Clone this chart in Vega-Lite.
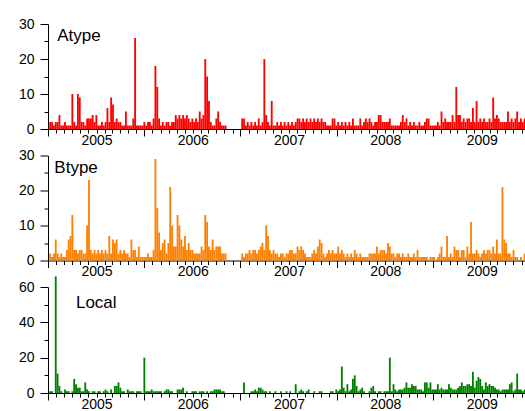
{
"$schema": "https://vega.github.io/schema/vega-lite/v6.json",
"autosize": {"type": "pad"},
"padding": {"left": 18, "top": 17, "right": 0, "bottom": 0},
"background": "white",
"spacing": 26.5,
"bounds": "flush",
"config": {"view": {"stroke": null}, "bar": {"binSpacing": 0}, "axis": {"grid": false, "domainColor": "black", "tickColor": "black", "labelColor": "black", "labelFont": "Liberation Sans", "labelFontSize": 14, "title": null}},
"datasets": {"w": [
{"d":"2004-07-04","a":2,"b":2,"l":1},{"d":"2004-07-11","a":2,"b":1,"l":1},{"d":"2004-07-18","a":1,"b":2,"l":0},{"d":"2004-07-25","a":2,"b":6,"l":66},
{"d":"2004-08-01","a":2,"b":2,"l":11},{"d":"2004-08-08","a":4,"b":1,"l":4},{"d":"2004-08-15","a":1,"b":2,"l":1},{"d":"2004-08-22","a":1,"b":1,"l":0},{"d":"2004-08-29","a":2,"b":1,"l":2},
{"d":"2004-09-05","a":1,"b":3,"l":1},{"d":"2004-09-12","a":1,"b":6,"l":1},{"d":"2004-09-19","a":1,"b":7,"l":0},{"d":"2004-09-26","a":10,"b":13,"l":1},
{"d":"2004-10-03","a":2,"b":3,"l":8},{"d":"2004-10-10","a":1,"b":3,"l":5},{"d":"2004-10-17","a":10,"b":2,"l":3},{"d":"2004-10-24","a":9,"b":3,"l":3},{"d":"2004-10-31","a":2,"b":3,"l":1},
{"d":"2004-11-07","a":2,"b":2,"l":1},{"d":"2004-11-14","a":1,"b":2,"l":6},{"d":"2004-11-21","a":3,"b":10,"l":2},{"d":"2004-11-28","a":3,"b":23,"l":1},
{"d":"2004-12-05","a":3,"b":3,"l":0},{"d":"2004-12-12","a":4,"b":2,"l":1},{"d":"2004-12-19","a":2,"b":3,"l":1},{"d":"2004-12-26","a":4,"b":2,"l":0},
{"d":"2005-01-02","a":1,"b":3,"l":1},{"d":"2005-01-09","a":1,"b":2,"l":1},{"d":"2005-01-16","a":2,"b":3,"l":0},{"d":"2005-01-23","a":1,"b":2,"l":1},{"d":"2005-01-30","a":2,"b":3,"l":2},
{"d":"2005-02-06","a":6,"b":2,"l":1},{"d":"2005-02-13","a":2,"b":7,"l":0},{"d":"2005-02-20","a":9,"b":2,"l":2},{"d":"2005-02-27","a":7,"b":6,"l":0},
{"d":"2005-03-06","a":2,"b":5,"l":4},{"d":"2005-03-13","a":3,"b":6,"l":4},{"d":"2005-03-20","a":2,"b":2,"l":6},{"d":"2005-03-27","a":2,"b":3,"l":3},
{"d":"2005-04-03","a":1,"b":2,"l":1},{"d":"2005-04-10","a":1,"b":3,"l":1},{"d":"2005-04-17","a":5,"b":2,"l":0},{"d":"2005-04-24","a":1,"b":2,"l":2},
{"d":"2005-05-01","a":1,"b":1,"l":1},{"d":"2005-05-08","a":1,"b":6,"l":1},{"d":"2005-05-15","a":3,"b":3,"l":1},{"d":"2005-05-22","a":26,"b":3,"l":0},{"d":"2005-05-29","a":1,"b":1,"l":1},
{"d":"2005-06-05","a":1,"b":4,"l":1},{"d":"2005-06-12","a":1,"b":1,"l":1},{"d":"2005-06-19","a":1,"b":1,"l":0},{"d":"2005-06-26","a":2,"b":1,"l":20},
{"d":"2005-07-03","a":1,"b":1,"l":1},{"d":"2005-07-10","a":2,"b":2,"l":1},{"d":"2005-07-17","a":2,"b":1,"l":1},{"d":"2005-07-24","a":1,"b":1,"l":2},{"d":"2005-07-31","a":3,"b":3,"l":1},
{"d":"2005-08-07","a":18,"b":29,"l":1},{"d":"2005-08-14","a":12,"b":15,"l":1},{"d":"2005-08-21","a":3,"b":8,"l":1},{"d":"2005-08-28","a":1,"b":3,"l":1},
{"d":"2005-09-04","a":2,"b":5,"l":0},{"d":"2005-09-11","a":1,"b":6,"l":1},{"d":"2005-09-18","a":2,"b":2,"l":2},{"d":"2005-09-25","a":2,"b":5,"l":2},
{"d":"2005-10-02","a":1,"b":21,"l":1},{"d":"2005-10-09","a":2,"b":10,"l":1},{"d":"2005-10-16","a":2,"b":4,"l":0},{"d":"2005-10-23","a":4,"b":4,"l":0},{"d":"2005-10-30","a":3,"b":13,"l":2},
{"d":"2005-11-06","a":4,"b":10,"l":2},{"d":"2005-11-13","a":3,"b":6,"l":2},{"d":"2005-11-20","a":4,"b":4,"l":3},{"d":"2005-11-27","a":3,"b":7,"l":0},
{"d":"2005-12-04","a":4,"b":3,"l":1},{"d":"2005-12-11","a":3,"b":5,"l":0},{"d":"2005-12-18","a":2,"b":3,"l":0},{"d":"2005-12-25","a":3,"b":3,"l":1},
{"d":"2006-01-01","a":2,"b":2,"l":1},{"d":"2006-01-08","a":3,"b":2,"l":1},{"d":"2006-01-15","a":2,"b":2,"l":0},{"d":"2006-01-22","a":5,"b":2,"l":1},{"d":"2006-01-29","a":3,"b":4,"l":1},
{"d":"2006-02-05","a":4,"b":3,"l":1},{"d":"2006-02-12","a":20,"b":13,"l":0},{"d":"2006-02-19","a":15,"b":11,"l":1},{"d":"2006-02-26","a":8,"b":4,"l":0},
{"d":"2006-03-05","a":2,"b":3,"l":1},{"d":"2006-03-12","a":1,"b":6,"l":1},{"d":"2006-03-19","a":1,"b":3,"l":2},{"d":"2006-03-26","a":3,"b":4,"l":2},
{"d":"2006-04-02","a":5,"b":4,"l":2},{"d":"2006-04-09","a":2,"b":4,"l":2},{"d":"2006-04-16","a":1,"b":2,"l":1},{"d":"2006-04-23","a":1,"b":2,"l":1},{"d":"2006-04-30","a":1,"b":2,"l":0},
{"d":"2006-07-02","a":3,"b":2,"l":0},{"d":"2006-07-09","a":3,"b":1,"l":6},{"d":"2006-07-16","a":1,"b":2,"l":0},{"d":"2006-07-23","a":2,"b":2,"l":0},{"d":"2006-07-30","a":1,"b":3,"l":0},
{"d":"2006-08-06","a":2,"b":2,"l":1},{"d":"2006-08-13","a":1,"b":3,"l":1},{"d":"2006-08-20","a":2,"b":3,"l":2},{"d":"2006-08-27","a":1,"b":2,"l":1},
{"d":"2006-09-03","a":3,"b":3,"l":3},{"d":"2006-09-10","a":1,"b":4,"l":3},{"d":"2006-09-17","a":2,"b":5,"l":2},{"d":"2006-09-24","a":20,"b":3,"l":1},
{"d":"2006-10-01","a":4,"b":10,"l":1},{"d":"2006-10-08","a":2,"b":7,"l":0},{"d":"2006-10-15","a":1,"b":3,"l":1},{"d":"2006-10-22","a":8,"b":2,"l":0},{"d":"2006-10-29","a":1,"b":3,"l":0},
{"d":"2006-11-05","a":1,"b":2,"l":1},{"d":"2006-11-12","a":2,"b":2,"l":0},{"d":"2006-11-19","a":1,"b":1,"l":0},{"d":"2006-11-26","a":2,"b":2,"l":1},
{"d":"2006-12-03","a":1,"b":2,"l":0},{"d":"2006-12-10","a":2,"b":1,"l":0},{"d":"2006-12-17","a":1,"b":2,"l":1},{"d":"2006-12-24","a":2,"b":2,"l":0},{"d":"2006-12-31","a":1,"b":3,"l":1},
{"d":"2007-01-07","a":2,"b":3,"l":0},{"d":"2007-01-14","a":1,"b":2,"l":0},{"d":"2007-01-21","a":2,"b":2,"l":5},{"d":"2007-01-28","a":3,"b":4,"l":0},
{"d":"2007-02-04","a":3,"b":3,"l":1},{"d":"2007-02-11","a":2,"b":4,"l":2},{"d":"2007-02-18","a":3,"b":3,"l":1},{"d":"2007-02-25","a":2,"b":2,"l":0},
{"d":"2007-03-04","a":3,"b":1,"l":1},{"d":"2007-03-11","a":2,"b":1,"l":2},{"d":"2007-03-18","a":3,"b":1,"l":0},{"d":"2007-03-25","a":2,"b":2,"l":0},
{"d":"2007-04-01","a":3,"b":3,"l":1},{"d":"2007-04-08","a":2,"b":2,"l":0},{"d":"2007-04-15","a":3,"b":4,"l":0},{"d":"2007-04-22","a":2,"b":6,"l":1},{"d":"2007-04-29","a":3,"b":5,"l":1},
{"d":"2007-05-06","a":2,"b":2,"l":0},{"d":"2007-05-13","a":2,"b":1,"l":0},{"d":"2007-05-20","a":1,"b":2,"l":0},{"d":"2007-05-27","a":1,"b":3,"l":0},
{"d":"2007-06-03","a":1,"b":2,"l":1},{"d":"2007-06-10","a":3,"b":3,"l":1},{"d":"2007-06-17","a":3,"b":2,"l":0},{"d":"2007-06-24","a":1,"b":2,"l":2},
{"d":"2007-07-01","a":2,"b":4,"l":1},{"d":"2007-07-08","a":1,"b":2,"l":2},{"d":"2007-07-15","a":2,"b":3,"l":15},{"d":"2007-07-22","a":1,"b":2,"l":3},{"d":"2007-07-29","a":2,"b":1,"l":1},
{"d":"2007-08-05","a":1,"b":2,"l":5},{"d":"2007-08-12","a":2,"b":1,"l":1},{"d":"2007-08-19","a":1,"b":2,"l":2},{"d":"2007-08-26","a":3,"b":1,"l":8},
{"d":"2007-09-02","a":1,"b":3,"l":10},{"d":"2007-09-09","a":1,"b":2,"l":4},{"d":"2007-09-16","a":1,"b":1,"l":1},{"d":"2007-09-23","a":3,"b":2,"l":2},{"d":"2007-09-30","a":1,"b":1,"l":3},
{"d":"2007-10-07","a":2,"b":1,"l":1},{"d":"2007-10-14","a":3,"b":1,"l":0},{"d":"2007-10-21","a":2,"b":1,"l":0},{"d":"2007-10-28","a":3,"b":2,"l":1},
{"d":"2007-11-04","a":2,"b":2,"l":3},{"d":"2007-11-11","a":1,"b":2,"l":4},{"d":"2007-11-18","a":2,"b":2,"l":1},{"d":"2007-11-25","a":2,"b":4,"l":0},
{"d":"2007-12-02","a":4,"b":2,"l":1},{"d":"2007-12-09","a":4,"b":3,"l":1},{"d":"2007-12-16","a":2,"b":3,"l":0},{"d":"2007-12-23","a":2,"b":3,"l":1},{"d":"2007-12-30","a":2,"b":2,"l":1},
{"d":"2008-01-06","a":2,"b":5,"l":1},{"d":"2008-01-13","a":3,"b":4,"l":20},{"d":"2008-01-20","a":1,"b":2,"l":1},{"d":"2008-01-27","a":1,"b":2,"l":5},
{"d":"2008-02-03","a":1,"b":1,"l":2},{"d":"2008-02-10","a":1,"b":2,"l":1},{"d":"2008-02-17","a":1,"b":2,"l":2},{"d":"2008-02-24","a":2,"b":1,"l":2},
{"d":"2008-03-02","a":4,"b":2,"l":2},{"d":"2008-03-09","a":2,"b":1,"l":3},{"d":"2008-03-16","a":3,"b":1,"l":6},{"d":"2008-03-23","a":1,"b":2,"l":3},{"d":"2008-03-30","a":2,"b":1,"l":3},
{"d":"2008-04-06","a":1,"b":1,"l":5},{"d":"2008-04-13","a":2,"b":2,"l":4},{"d":"2008-04-20","a":1,"b":1,"l":4},{"d":"2008-04-27","a":1,"b":3,"l":2},
{"d":"2008-05-04","a":2,"b":1,"l":2},{"d":"2008-05-11","a":1,"b":1,"l":2},{"d":"2008-05-18","a":1,"b":1,"l":1},{"d":"2008-05-25","a":2,"b":1,"l":6},
{"d":"2008-06-01","a":3,"b":1,"l":6},{"d":"2008-06-08","a":3,"b":0,"l":3},{"d":"2008-06-15","a":1,"b":1,"l":6},{"d":"2008-06-22","a":1,"b":1,"l":2},{"d":"2008-06-29","a":1,"b":1,"l":2},
{"d":"2008-07-06","a":1,"b":0,"l":2},{"d":"2008-07-13","a":2,"b":1,"l":5},{"d":"2008-07-20","a":1,"b":2,"l":2},{"d":"2008-07-27","a":5,"b":4,"l":3},
{"d":"2008-08-03","a":2,"b":1,"l":2},{"d":"2008-08-10","a":3,"b":1,"l":2},{"d":"2008-08-17","a":2,"b":7,"l":2},{"d":"2008-08-24","a":2,"b":1,"l":5},{"d":"2008-08-31","a":2,"b":2,"l":3},
{"d":"2008-09-07","a":4,"b":1,"l":2},{"d":"2008-09-14","a":2,"b":4,"l":2},{"d":"2008-09-21","a":12,"b":3,"l":2},{"d":"2008-09-28","a":4,"b":3,"l":3},
{"d":"2008-10-05","a":4,"b":1,"l":4},{"d":"2008-10-12","a":2,"b":3,"l":6},{"d":"2008-10-19","a":3,"b":3,"l":4},{"d":"2008-10-26","a":2,"b":1,"l":4},
{"d":"2008-11-02","a":3,"b":4,"l":5},{"d":"2008-11-09","a":3,"b":2,"l":5},{"d":"2008-11-16","a":2,"b":11,"l":4},{"d":"2008-11-23","a":6,"b":2,"l":12},{"d":"2008-11-30","a":2,"b":2,"l":3},
{"d":"2008-12-07","a":8,"b":3,"l":7},{"d":"2008-12-14","a":2,"b":2,"l":9},{"d":"2008-12-21","a":3,"b":1,"l":8},{"d":"2008-12-28","a":2,"b":2,"l":4},
{"d":"2009-01-04","a":3,"b":3,"l":2},{"d":"2009-01-11","a":2,"b":2,"l":6},{"d":"2009-01-18","a":2,"b":3,"l":4},{"d":"2009-01-25","a":3,"b":3,"l":5},
{"d":"2009-02-01","a":2,"b":2,"l":4},{"d":"2009-02-08","a":9,"b":4,"l":4},{"d":"2009-02-15","a":3,"b":2,"l":3},{"d":"2009-02-22","a":4,"b":6,"l":2},
{"d":"2009-03-01","a":3,"b":2,"l":2},{"d":"2009-03-08","a":2,"b":2,"l":1},{"d":"2009-03-15","a":2,"b":21,"l":2},{"d":"2009-03-22","a":2,"b":6,"l":2},{"d":"2009-03-29","a":2,"b":5,"l":2},
{"d":"2009-04-05","a":5,"b":2,"l":2},{"d":"2009-04-12","a":2,"b":2,"l":5},{"d":"2009-04-19","a":3,"b":1,"l":6},{"d":"2009-04-26","a":2,"b":3,"l":1},
{"d":"2009-05-03","a":3,"b":1,"l":2},{"d":"2009-05-10","a":5,"b":1,"l":11},{"d":"2009-05-17","a":2,"b":0,"l":2},{"d":"2009-05-24","a":3,"b":1,"l":2},{"d":"2009-05-31","a":2,"b":0,"l":1},
{"d":"2009-06-07","a":3,"b":2,"l":2}
]},
"vconcat": [
{
 "width": 477, "height": 105,
 "layer": [
  {"data": {"name": "w"}, "mark": {"type": "bar", "color": "#ff0000", "binSpacing": 0},
   "encoding": {
    "x": {"field": "d", "type": "temporal", "timeUnit": "utcyearweek", "scale": {"type": "utc", "domain": [{"year": 2004, "month": 7, "date": 1, "utc": true}, {"year": 2009, "month": 6, "date": 14, "utc": true}]},
     "axis": {"orient": "bottom", "tickCount": {"interval": "month", "step": 1}, "tickSize": 4, "labelPadding": 0, "labelOverlap": false, "labelFlush": false, "labelExpr": "utcmonth(datum.value) == 0 ? utcFormat(datum.value, '%Y') : ''"}},
    "y": {"field": "a", "type": "quantitative", "scale": {"domain": [0, 30], "nice": false},
     "axis": {"orient": "left", "values": [0, 10, 20, 30], "tickSize": 8, "labelPadding": 6, "labelFlush": false}}
   }},
  {"data": {"values": [{"d": "2004-08-05", "v": 25.1, "t": "Atype"}]},
   "mark": {"type": "text", "align": "left", "baseline": "alphabetic", "font": "Liberation Sans", "fontSize": 17, "color": "black"},
   "encoding": {
    "x": {"field": "d", "type": "temporal", "scale": {"type": "utc", "domain": [{"year": 2004, "month": 7, "date": 1, "utc": true}, {"year": 2009, "month": 6, "date": 14, "utc": true}]},
     "axis": {"orient": "bottom", "values": [{"year": 2004, "month": 7, "date": 1, "utc": true}, {"year": 2005, "month": 7, "date": 1, "utc": true}, {"year": 2006, "month": 7, "date": 1, "utc": true}, {"year": 2007, "month": 7, "date": 1, "utc": true}, {"year": 2008, "month": 7, "date": 1, "utc": true}], "tickSize": 7, "labels": false, "domain": false}},
    "y": {"field": "v", "type": "quantitative", "scale": {"domain": [0, 30], "nice": false},
     "axis": {"orient": "left", "values": [5, 15, 25], "tickSize": 4, "labels": false, "domain": false}},
    "text": {"field": "t"}
   }}
 ],
 "resolve": {"axis": {"x": "independent", "y": "independent"}}
},
{
 "width": 477, "height": 105,
 "layer": [
  {"data": {"name": "w"}, "mark": {"type": "bar", "color": "#ff8000", "binSpacing": 0},
   "encoding": {
    "x": {"field": "d", "type": "temporal", "timeUnit": "utcyearweek", "scale": {"type": "utc", "domain": [{"year": 2004, "month": 7, "date": 1, "utc": true}, {"year": 2009, "month": 6, "date": 14, "utc": true}]},
     "axis": {"orient": "bottom", "tickCount": {"interval": "month", "step": 1}, "tickSize": 4, "labelPadding": 0, "labelOverlap": false, "labelFlush": false, "labelExpr": "utcmonth(datum.value) == 0 ? utcFormat(datum.value, '%Y') : ''"}},
    "y": {"field": "b", "type": "quantitative", "scale": {"domain": [0, 30], "nice": false},
     "axis": {"orient": "left", "values": [0, 10, 20, 30], "tickSize": 8, "labelPadding": 6, "labelFlush": false}}
   }},
  {"data": {"values": [{"d": "2004-07-25", "v": 25.0, "t": "Btype"}]},
   "mark": {"type": "text", "align": "left", "baseline": "alphabetic", "font": "Liberation Sans", "fontSize": 17, "color": "black"},
   "encoding": {
    "x": {"field": "d", "type": "temporal", "scale": {"type": "utc", "domain": [{"year": 2004, "month": 7, "date": 1, "utc": true}, {"year": 2009, "month": 6, "date": 14, "utc": true}]},
     "axis": {"orient": "bottom", "values": [{"year": 2004, "month": 7, "date": 1, "utc": true}, {"year": 2005, "month": 7, "date": 1, "utc": true}, {"year": 2006, "month": 7, "date": 1, "utc": true}, {"year": 2007, "month": 7, "date": 1, "utc": true}, {"year": 2008, "month": 7, "date": 1, "utc": true}], "tickSize": 7, "labels": false, "domain": false}},
    "y": {"field": "v", "type": "quantitative", "scale": {"domain": [0, 30], "nice": false},
     "axis": {"orient": "left", "values": [5, 15, 25], "tickSize": 4, "labels": false, "domain": false}},
    "text": {"field": "t"}
   }}
 ],
 "resolve": {"axis": {"x": "independent", "y": "independent"}}
},
{
 "width": 477, "height": 106,
 "layer": [
  {"data": {"name": "w"}, "mark": {"type": "bar", "color": "#008000", "binSpacing": 0},
   "encoding": {
    "x": {"field": "d", "type": "temporal", "timeUnit": "utcyearweek", "scale": {"type": "utc", "domain": [{"year": 2004, "month": 7, "date": 1, "utc": true}, {"year": 2009, "month": 6, "date": 14, "utc": true}]},
     "axis": {"orient": "bottom", "tickCount": {"interval": "month", "step": 1}, "tickSize": 4, "labelPadding": 0, "labelOverlap": false, "labelFlush": false, "labelExpr": "utcmonth(datum.value) == 0 ? utcFormat(datum.value, '%Y') : ''"}},
    "y": {"field": "l", "type": "quantitative", "scale": {"domain": [0, 60], "nice": false},
     "axis": {"orient": "left", "values": [0, 20, 40, 60], "tickSize": 8, "labelPadding": 6, "labelFlush": false}}
   }},
  {"data": {"values": [{"d": "2004-10-15", "v": 48.1, "t": "Local"}]},
   "mark": {"type": "text", "align": "left", "baseline": "alphabetic", "font": "Liberation Sans", "fontSize": 17, "color": "black"},
   "encoding": {
    "x": {"field": "d", "type": "temporal", "scale": {"type": "utc", "domain": [{"year": 2004, "month": 7, "date": 1, "utc": true}, {"year": 2009, "month": 6, "date": 14, "utc": true}]},
     "axis": {"orient": "bottom", "values": [{"year": 2004, "month": 7, "date": 1, "utc": true}, {"year": 2005, "month": 7, "date": 1, "utc": true}, {"year": 2006, "month": 7, "date": 1, "utc": true}, {"year": 2007, "month": 7, "date": 1, "utc": true}, {"year": 2008, "month": 7, "date": 1, "utc": true}], "tickSize": 7, "labels": false, "domain": false}},
    "y": {"field": "v", "type": "quantitative", "scale": {"domain": [0, 60], "nice": false},
     "axis": {"orient": "left", "values": [10, 30, 50], "tickSize": 4, "labels": false, "domain": false}},
    "text": {"field": "t"}
   }}
 ],
 "resolve": {"axis": {"x": "independent", "y": "independent"}}
}
]
}
